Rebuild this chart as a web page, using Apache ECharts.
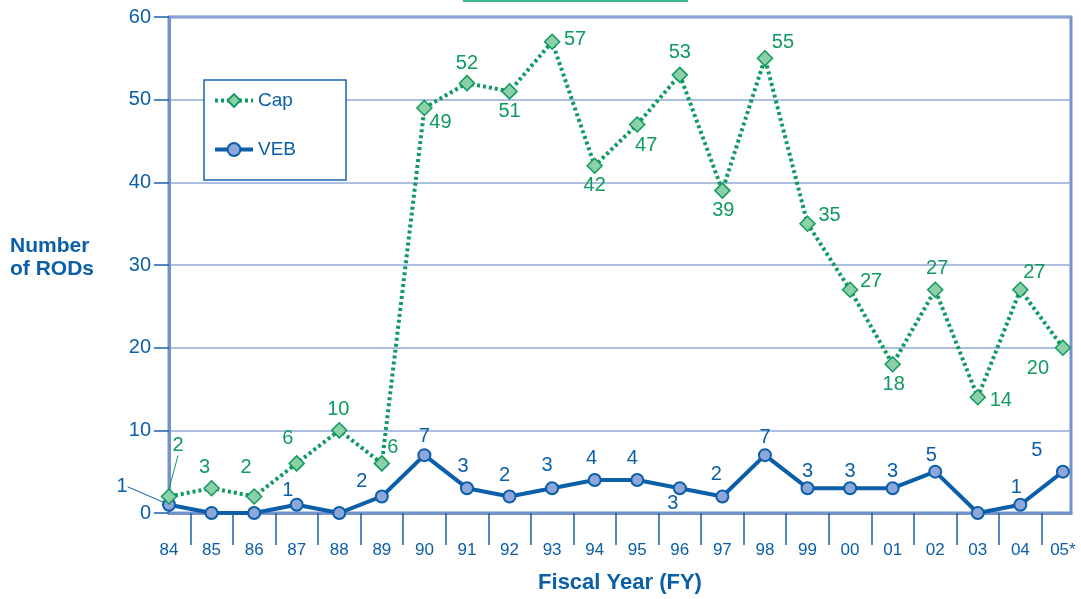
<!DOCTYPE html>
<html>
<head>
<meta charset="utf-8">
<script src="https://cdn.jsdelivr.net/npm/echarts@6/dist/echarts.min.js"></script>
<style>html,body{margin:0;padding:0;background:#fff;}#c{width:1081px;height:599px;}</style>
</head>
<body>
<div id="c"></div>
<script>
var years = ['84','85','86','87','88','89','90','91','92','93','94','95','96','97','98','99','00','01','02','03','04','05*'];
var capValues = [2,3,2,6,10,6,49,52,51,57,42,47,53,39,55,35,27,18,27,14,27,20];
var vebValues = [1,0,0,1,0,2,7,3,2,3,4,4,3,2,7,3,3,3,5,0,1,5];

// label placement (offset from the point, px)
var capLabelOffset = [[9,-51],[-7,-21],[-8,-29],[-9,-25],[-1,-21],[11,-16],[16,15],[0,-20],[0,20],[23,-2],[0,20],[9,21],[0,-22],[1,20],[18,-16],[22,-8],[21,-8],[1,20],[2,-21],[23,3],[14,-17],[-25,21]];
var vebLabelOffset = [[-47,-18],[0,-15],[0,-15],[-9,-14],[0,-15],[-20,-15],[0,-19],[-4,-22],[-5,-21],[-5,-23],[-3,-21],[-5,-21],[-7,15],[-6,-22],[0,-18],[0,-17],[0,-17],[0,-17],[-4,-16],[0,-15],[-4,-17],[-26,-21]];

var GREEN = '#0f9a5f', BLUE = '#0b5fa8', FRAME = '#7393cb', GRIDC = '#90a9d8';
var FONT = '"Liberation Sans", Arial, Helvetica, sans-serif';

function buildData(vals, hideZero) {
  return vals.map(function (v, i) {
    var item = { value: [i, v] };
    if (hideZero && v === 0) item.label = { show: false };
    if (i === 0) item.labelLine = { show: true };
    return item;
  });
}

var chart = echarts.init(document.getElementById('c'), null, { renderer: 'canvas' });
var halfTicks = [];
for (var k = 0; k < years.length - 1; k++) halfTicks.push(k + 0.5);
var labelTicks = years.map(function (y, i) { return i; });

chart.setOption({
  animation: false,
  backgroundColor: '#ffffff',
  textStyle: { fontFamily: FONT },
  grid: { left: 169, right: 10, top: 17, bottom: 84, show: true, borderColor: FRAME, borderWidth: 3, containLabel: false },
  legend: {
    left: 204, top: 80, orient: 'vertical',
    padding: [11, 50, 21, 9],
    itemWidth: 38, itemHeight: 16, itemGap: 30,
    borderColor: '#1a66b0', borderWidth: 1.5, backgroundColor: '#fff',
    lineStyle: { width: 4 },
    textStyle: { color: BLUE, fontSize: 19, fontFamily: FONT },
    data: ['Cap', 'VEB']
  },
  xAxis: {
    type: 'value', min: 0, max: 21.19,
    name: 'Fiscal Year (FY)', nameLocation: 'middle', nameGap: 59,
    nameTextStyle: { color: BLUE, fontSize: 22, fontWeight: 'bold', fontFamily: FONT },
    axisLine: { show: true, lineStyle: { color: FRAME, width: 3 } },
    axisTick: { show: true, customValues: halfTicks, length: 32, lineStyle: { color: '#1a62ac', width: 1.5 } },
    axisLabel: { customValues: labelTicks, margin: 29, color: BLUE, fontSize: 17, fontFamily: FONT,
      formatter: function (v) { return years[Math.round(v)]; } },
    splitLine: { show: false }
  },
  yAxis: {
    type: 'value', min: 0, max: 60, interval: 10,
    axisLine: { show: true, lineStyle: { color: FRAME, width: 3 } },
    axisTick: { show: true, length: 15, lineStyle: { color: '#1a62ac', width: 1.5 } },
    axisLabel: { margin: 18, color: BLUE, fontSize: 20, fontFamily: FONT },
    splitLine: { show: true, lineStyle: { color: GRIDC, width: 1.5 } }
  },
  series: [
    {
      name: 'Cap', type: 'line', z: 3,
      data: buildData(capValues, false),
      symbol: 'diamond', symbolSize: 15,
      lineStyle: { color: GREEN, width: 4, type: [3, 3] },
      itemStyle: { color: '#8ccfa8', borderColor: GREEN, borderWidth: 1.5 },
      label: { show: true, position: 'inside', color: GREEN, fontSize: 20, fontFamily: FONT },
      labelLine: { show: false, lineStyle: { color: GREEN, width: 1 } },
      labelLayout: function (p) { var o = capLabelOffset[p.dataIndex]; return { dx: o[0], dy: o[1] }; }
    },
    {
      name: 'VEB', type: 'line', z: 2,
      data: buildData(vebValues, true),
      symbol: 'circle', symbolSize: 12,
      lineStyle: { color: BLUE, width: 4 },
      itemStyle: { color: '#8ea7da', borderColor: BLUE, borderWidth: 2 },
      label: { show: true, position: 'inside', color: BLUE, fontSize: 20, fontFamily: FONT },
      labelLine: { show: false, lineStyle: { color: BLUE, width: 1 } },
      labelLayout: function (p) { var o = vebLabelOffset[p.dataIndex]; return { dx: o[0], dy: o[1] }; }
    }
  ],
  graphic: [
    { type: 'rect', left: 463, top: 0, shape: { width: 225, height: 2 }, style: { fill: '#3fb68c' } },
    { type: 'text', left: 10, top: 235, style: { text: 'Number\nof RODs', fill: BLUE, font: 'bold 21px ' + FONT, lineHeight: 23 } }
  ]
});
</script>
</body>
</html>
